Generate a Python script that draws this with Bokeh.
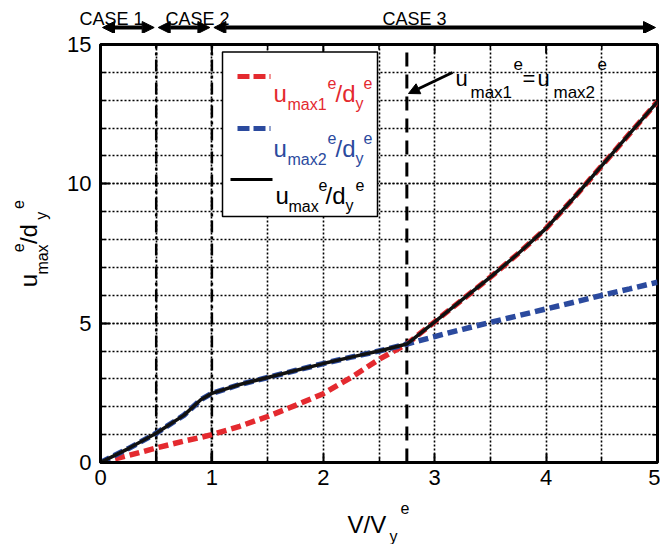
import numpy as np
from bokeh.plotting import figure
from bokeh.models import Range1d, Label, Arrow, NormalHead, FixedTicker
from bokeh.layouts import column, row
from bokeh.embed import file_html
from bokeh.resources import INLINE

# ---------------- data ----------------
v_ratio = [0, 0.25, 0.5, 0.75, 0.9, 1.0, 1.25, 1.5, 1.75, 2.0, 2.25, 2.5, 2.75,
           3.0, 3.25, 3.5, 3.75, 4.0, 4.25, 4.5, 4.75, 5.0]
u_max1 = [0, 0.25, 0.52, 0.77, 0.9, 1.0, 1.3, 1.65, 2.05, 2.47, 3.05, 3.7, 4.25,
          5.05, 5.85, 6.65, 7.5, 8.4, 9.5, 10.65, 11.8, 12.95]
u_max2 = [0, 0.5, 1.05, 1.7, 2.25, 2.48, 2.8, 3.05, 3.3, 3.55, 3.78, 4.0, 4.25,
          4.52, 4.78, 5.03, 5.27, 5.51, 5.75, 6.0, 6.23, 6.47]
u_max = list(np.maximum(u_max1, u_max2))

case_bounds = [0.0, 0.5, 1.0, 5.0]
case_labels = ["CASE 1", "CASE 2", "CASE 3"]
case_boundaries = [0.5, 1.0]
intersection_x = 2.75
x_ticks = [0, 1, 2, 3, 4, 5]
x_minor = [0.5, 1.5, 2.5, 3.5, 4.5]
y_ticks = [0, 5, 10, 15]
y_minor = list(range(16))

RED = "#e42a2f"
BLUE = "#2b4a9e"
FONT = "Liberation Sans"

# ---------------- geometry (page px) ----------------
W = 660
TOP_H = 33
YLAB_W = 58
MAIN_W = W - YLAB_W
ML, MR, MT, MB = 42, 3, 11, 36
FRAME_H = 418
MID_H = MT + FRAME_H + MB
XLAB_H = 46
X0 = YLAB_W + ML             # 100
X1 = YLAB_W + MAIN_W - MR    # 657
YT = TOP_H + MT              # 44
YB = YT + FRAME_H            # 462
PAGE_BOTTOM = TOP_H + MID_H + XLAB_H

xr = Range1d(0, 5)
yr = Range1d(0, 15)

def dx(px):
    return (px - X0) / (X1 - X0) * 5.0

def dy(py):
    return (YB - py) / (YB - YT) * 15.0


def bare(width, height, x_range, y_range):
    f = figure(width=width, height=height, x_range=x_range, y_range=y_range,
               output_backend="svg", toolbar_location=None,
               min_border_left=0, min_border_right=0,
               min_border_top=0, min_border_bottom=0,
               x_axis_location=None, y_axis_location=None)
    f.grid.visible = False
    f.outline_line_color = None
    return f


def txt(fig, s, x, y, size, color="black", angle=0.0, align="left"):
    fig.add_layout(Label(x=x, y=y, text=s, text_font=FONT,
                         text_font_size=f"{size}px", text_color=color,
                         text_baseline="alphabetic", text_align=align,
                         angle=angle))

# ---------------- main figure ----------------
p = figure(width=MAIN_W, height=MID_H, x_range=xr, y_range=yr,
           output_backend="svg", toolbar_location=None,
           min_border_left=ML, min_border_right=MR,
           min_border_top=MT, min_border_bottom=MB)
p.outline_line_color = "black"
p.outline_line_width = 3

p.xaxis.ticker = FixedTicker(ticks=x_ticks, minor_ticks=x_minor)
p.yaxis.ticker = FixedTicker(ticks=y_ticks, minor_ticks=y_minor)
for ax in [p.xaxis[0], p.yaxis[0]]:
    ax.axis_line_width = 3
    ax.major_tick_in = 9
    ax.major_tick_out = 0
    ax.minor_tick_in = 5
    ax.minor_tick_out = 0
    ax.major_tick_line_width = 2
    ax.minor_tick_line_width = 1.5
    ax.major_label_text_font = FONT
    ax.major_label_text_font_size = "22px"
    ax.major_label_text_color = "black"
p.xaxis.major_label_standoff = 7
p.yaxis.major_label_standoff = 9

for g in [p.xgrid[0], p.ygrid[0]]:
    g.grid_line_color = "black"
    g.grid_line_dash = "2 2"
    g.grid_line_width = 1.6
    g.minor_grid_line_color = "black"
    g.minor_grid_line_dash = "2 2"
    g.minor_grid_line_width = 1.6

# inward ticks on top and right edges (outer half clipped by the frame)
p.scatter(x_ticks, [15] * len(x_ticks), marker="dash", size=18, angle=np.pi / 2,
          line_color="black", line_width=2)
p.scatter(x_minor, [15] * len(x_minor), marker="dash", size=10, angle=np.pi / 2,
          line_color="black", line_width=1.5)
p.scatter([5] * len(y_ticks), y_ticks, marker="dash", size=18,
          line_color="black", line_width=2)
p.scatter([5] * len(y_minor), y_minor, marker="dash", size=10,
          line_color="black", line_width=1.5)

# boundary lines
p.segment(x0=case_boundaries, y0=[0] * len(case_boundaries),
          x1=case_boundaries, y1=[15] * len(case_boundaries),
          line_color="black", line_width=2.5, line_dash="12 4 3 4")
p.segment(x0=[intersection_x], y0=[0], x1=[intersection_x], y1=[15],
          line_color="black", line_width=3, line_dash="14 8")

# curves
p.line(v_ratio, u_max1, line_color=RED, line_width=5.5, line_dash="10 5")
p.line(v_ratio, u_max2, line_color=BLUE, line_width=5.5, line_dash="10 5")
p.line(v_ratio, u_max, line_color="#111111", line_width=3.5)

# legend box
p.quad(left=[dx(222)], right=[dx(377)], top=[dy(51.5)], bottom=[dy(216)],
       fill_color="white", line_color="black", line_width=1.5)
p.line([dx(237), dx(270)], [dy(76), dy(76)], line_color=RED, line_width=5, line_dash="12 4")
p.line([dx(237), dx(270)], [dy(128), dy(128)], line_color=BLUE, line_width=5, line_dash="12 4")
p.line([dx(230), dx(272)], [dy(179), dy(179)], line_color="black", line_width=3)


def ptxt(s, px, py, size, color="black"):
    txt(p, s, dx(px), dy(py), size, color)


def legend_entry(sub, base, color, xs):
    ptxt("u", xs[0], base, 24, color)
    ptxt(sub, xs[1], base + 11, 16, color)
    ptxt("e", xs[2], base - 11, 16, color)
    ptxt("/d", xs[3], base, 24, color)
    ptxt("y", xs[4], base + 10, 16, color)
    ptxt("e", xs[5], base - 11, 16, color)

legend_entry("max1", 93, RED, [273, 287, 327, 335, 355, 363])
legend_entry("max2", 148, BLUE, [273, 287, 327, 335, 355, 363])
legend_entry("max", 195, "black", [275, 288, 318, 325, 345, 355])

# annotation u_max1^e = u_max2^e
ptxt("u", 455, 78, 22)
ptxt("max1", 470, 92, 17)
ptxt("e", 513, 63, 17)
ptxt("=", 522, 78, 22)
ptxt("u", 537, 78, 22)
ptxt("max2", 553, 92, 17)
ptxt("e", 597, 63, 17)
p.add_layout(Arrow(start=None,
                   end=NormalHead(size=11, fill_color="black", line_color="black"),
                   x_start=dx(452), y_start=dy(72), x_end=dx(408), y_end=dy(93),
                   line_width=3, line_color="black"))

# ---------------- y label figure ----------------
ylab = bare(YLAB_W, MID_H, Range1d(0, YLAB_W), Range1d(0, MID_H))
def ly(py):
    return TOP_H + MID_H - py
A = np.pi / 2
txt(ylab, "u", 28, ly(303), 24, angle=A)
txt(ylab, "max", 42, ly(289), 16, angle=A)
txt(ylab, "e", 17, ly(264), 16, angle=A)
txt(ylab, "/d", 28, ly(255), 24, angle=A)
txt(ylab, "y", 41, ly(228), 16, angle=A)
txt(ylab, "e", 17, ly(216), 16, angle=A)

# ---------------- x label figure ----------------
xlab = bare(W, XLAB_H, Range1d(0, W), Range1d(0, XLAB_H))
def lx_y(py):
    return PAGE_BOTTOM - py
txt(xlab, "V/V", 347, lx_y(524), 24)
txt(xlab, "y", 389, lx_y(536), 16)
txt(xlab, "e", 400, lx_y(507), 16)

# ---------------- top figure (cases) ----------------
top = bare(W, TOP_H, Range1d(dx(0), dx(W)), Range1d(0, TOP_H))
def ty(py):
    return TOP_H - py

gap = 2.0 / (X1 - X0) * 5.0
for i in range(3):
    top.add_layout(Arrow(start=NormalHead(size=12, fill_color="black", line_color="black"),
                         end=NormalHead(size=12, fill_color="black", line_color="black"),
                         x_start=case_bounds[i] + gap, x_end=case_bounds[i + 1] - gap,
                         y_start=ty(27), y_end=ty(27), line_width=4, line_color="black"))

case_centers_px = [111, 197, 414]
for s, cx in zip(case_labels, case_centers_px):
    txt(top, s, dx(cx), ty(18), 18, align="center")

layout = column(top, row(ylab, p, spacing=0), xlab, spacing=0)
open("out.html", "w").write(file_html(layout, INLINE))
